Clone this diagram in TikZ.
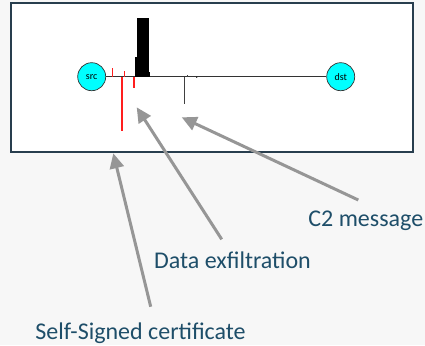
\documentclass[tikz,border=0pt]{standalone}
\usepackage{fontspec}
\setmainfont{Carlito}
\usetikzlibrary{arrows.meta}
\definecolor{bgc}{RGB}{247,247,247}
\definecolor{boxc}{RGB}{40,62,78}
\definecolor{txtc}{RGB}{30,78,105}
\definecolor{arrc}{RGB}{150,150,150}
\definecolor{hostc}{RGB}{0,255,255}
\definecolor{tickred}{RGB}{255,30,30}
\tikzset{
  host/.style={circle,draw=black!80,line width=0.7pt,fill=hostc,minimum size=28pt,inner sep=0pt,font=\fontsize{10}{11}\selectfont},
  lbl/.style={anchor=base,text=txtc,font=\fontsize{24}{26}\selectfont,inner sep=0pt},
  callout/.style={draw=arrc,line width=3pt,-{Triangle[length=15pt,width=14pt]}},
  redtick/.style={fill=tickred},
  blktick/.style={fill=black!75}
}
\begin{document}
\begin{tikzpicture}[x=1pt,y=-1pt]
\fill[bgc] (0,0) rectangle (425,345);
\useasboundingbox (0,0) rectangle (425,345);
\draw[boxc,fill=white,line width=1.6pt] (10.7,3.3) rectangle (412.7,151.7);
% hosts
\node[host] (src) at (91.7,76.7) {src};
\node[host] (dst) at (340.7,76.7) {dst};
\draw[black!80,line width=0.8pt] (src) -- (dst);
% black bar
\fill[black] (136.5,18.3) rectangle (148.7,76.7);
\fill[black] (134.7,56.7) rectangle (137,76.7);
\fill[black] (148,72.3) rectangle (150,76.7);
% red ticks
\fill[redtick] (111.5,68.3) rectangle (113,76.7);
\fill[redtick] (123.5,71) rectangle (125,76.7);
\fill[redtick] (121,76.7) rectangle (122.5,131);
\fill[redtick] (133,76.7) rectangle (134.5,88.3);
% black ticks
\fill[blktick] (184.2,76.7) rectangle (185.3,104);
\fill[blktick] (187.2,75) rectangle (188.3,76.7);
\fill[black] (196.7,77.3) circle (0.6);
% labels
\node[lbl] (c2) at (365.8,226) {C2 message};
\node[lbl] (dex) at (232.5,268.3) {Data exfiltration};
\node[lbl] (ssc) at (140.5,339) {Self-Signed certificate};
% callout ends
\coordinate (c2tail) at (358.3,200);
\coordinate (c2tip) at (181.7,117.3);
\coordinate (dextail) at (221.7,239.3);
\coordinate (dextip) at (136.7,107.3);
\coordinate (ssctail) at (150.7,306.7);
\coordinate (ssctip) at (113.3,153.3);
\draw[callout] (c2tail) -- (c2tip);
\draw[callout] (dextail) -- (dextip);
\draw[callout] (ssctail) -- (ssctip);
\end{tikzpicture}
\end{document}
